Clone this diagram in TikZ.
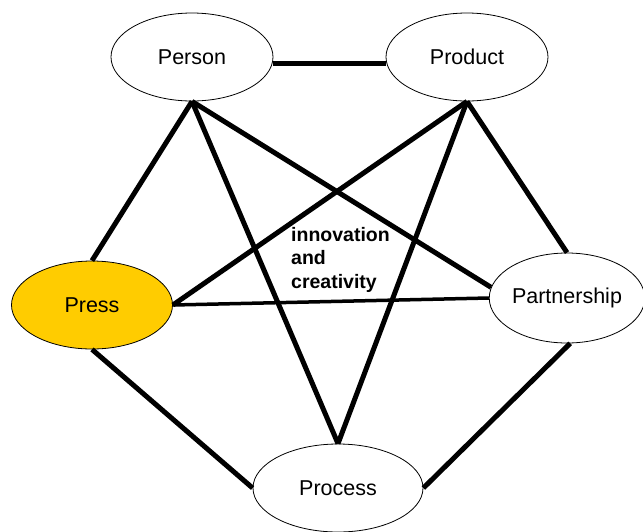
\documentclass[tikz,border=0pt]{standalone}
\usepackage{fontspec}
\setmainfont{Liberation Sans}
\usetikzlibrary{shapes.geometric}
\begin{document}
\begin{tikzpicture}[x=1pt,y=-1pt,
  pnode/.style={ellipse,draw=black,line width=0.8pt,fill=white,inner sep=0pt,
    font=\fontsize{21.5}{25}\selectfont},
  link/.style={line width=5pt,black},
  thinlink/.style={line width=3.5pt,black}]
\useasboundingbox (0,0) rectangle (643,531);
% the five P's
\node[pnode,minimum width=162,minimum height=88] (person) at (192,57) {Person};
\node[pnode,minimum width=162,minimum height=88] (product) at (467,57) {Product};
\node[pnode,minimum width=161,minimum height=88,fill={rgb,255:red,255;green,204;blue,0}] (press) at (92,305) {Press};
\node[pnode,minimum width=147,minimum height=90] (partner) at (567,298) {Partnership};
\node[pnode,minimum width=170,minimum height=88] (process) at (338,488) {Process};
% centre label
\node[font=\bfseries\fontsize{19.5}{23.5}\selectfont,align=left,anchor=north west,inner sep=0pt] (label) at (291,227) {innovation\\and\\creativity};
% connectors
\draw[link] (person.east |- 0,63) -- (product.west |- 0,63);
\draw[link] (person.south) -- (press.north);
\draw[link] (person.south) -- (partner.172);
\draw[link] (person.south) -- (process.north);
\draw[link] (product.south) -- (press.east);
\draw[link] (product.south) -- (process.north);
\draw[link] (product.south) -- (partner.north);
\draw[thinlink] (press.east) -- (partner.west);
\draw[link] (press.south) -- (process.west);
\draw[link] (partner.-86) -- (process.east);
\end{tikzpicture}
\end{document}
